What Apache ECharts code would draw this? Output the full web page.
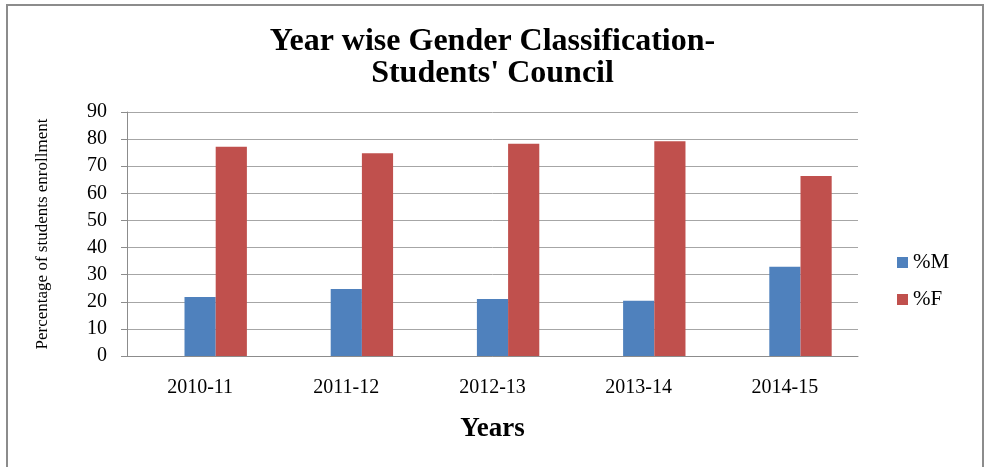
<!DOCTYPE html>
<html>
<head>
<meta charset="utf-8">
<script src="https://cdn.jsdelivr.net/npm/echarts@6/dist/echarts.min.js"></script>
<style>
  html, body { margin: 0; padding: 0; background: #fff; }
  #chart { width: 985px; height: 467px; }
</style>
</head>
<body>
<div id="chart"></div>
<script>
const years = ['2010-11', '2011-12', '2012-13', '2013-14', '2014-15']
const maleShare = [21.8, 24.7, 21.0, 20.4, 32.9]
const femaleShare = [77.2, 74.8, 78.3, 79.2, 66.4]
const yTicks = { min: 0, max: 90, interval: 10 }

const serif = 'Liberation Serif'
const gray = '#8c8c8c'

const chart = echarts.init(document.getElementById('chart'))

const option = {
  animation: false,
  title: {
    text: "Year wise Gender Classification-\nStudents' Council",
    left: 'center',
    top: 21,
    textStyle: {
      fontFamily: serif,
      fontWeight: 'bold',
      fontSize: 32,
      lineHeight: 32,
      color: '#000'
    }
  },
  graphic: [
    {
      type: 'rect',
      z: -1,
      shape: { x: 7, y: 5, width: 976, height: 480 },
      style: { fill: 'none', stroke: gray, lineWidth: 2 }
    }
  ],
  legend: {
    orient: 'vertical',
    left: 892,
    top: 247,
    data: ['%M', '%F'],
    icon: 'rect',
    itemWidth: 11,
    itemHeight: 11,
    itemGap: 16,
    textStyle: {
      fontFamily: serif,
      fontSize: 21,
      lineHeight: 19,
      color: '#000'
    }
  },
  grid: {
    left: 127,
    right: 127,
    top: 112,
    bottom: 111
  },
  xAxis: {
    type: 'category',
    data: years,
    name: 'Years',
    nameLocation: 'middle',
    nameGap: 60,
    nameTextStyle: {
      fontFamily: serif,
      fontWeight: 'bold',
      fontSize: 27,
      color: '#000'
    },
    axisLine: { lineStyle: { color: gray, width: 1 } },
    axisTick: { show: false },
    axisLabel: {
      fontFamily: serif,
      fontSize: 20,
      color: '#000',
      margin: 22
    }
  },
  yAxis: {
    type: 'value',
    min: yTicks.min,
    max: yTicks.max,
    interval: yTicks.interval,
    name: 'Percentage of students enrollment',
    nameLocation: 'middle',
    nameGap: 76,
    nameTextStyle: {
      fontFamily: serif,
      fontSize: 17,
      color: '#000'
    },
    axisLine: { show: true, lineStyle: { color: gray, width: 1 } },
    axisTick: { show: true, length: 6, lineStyle: { color: gray } },
    axisLabel: {
      fontFamily: serif,
      fontSize: 20,
      color: '#000',
      margin: 20
    },
    splitLine: {
      lineStyle: { color: '#a6a6a6', width: 1 }
    }
  },
  series: [
    {
      // empty first series, kept so the bars sit right of the category centre
      name: 'blank',
      type: 'bar',
      data: [],
      barGap: '0%',
      barCategoryGap: '36%'
    },
    {
      name: '%M',
      type: 'bar',
      data: maleShare,
      barGap: '0%',
      barCategoryGap: '36%',
      itemStyle: { color: '#4f81bd' }
    },
    {
      name: '%F',
      type: 'bar',
      data: femaleShare,
      barGap: '0%',
      barCategoryGap: '36%',
      itemStyle: { color: '#c0504d' }
    }
  ]
}

chart.setOption(option)
</script>
</body>
</html>
